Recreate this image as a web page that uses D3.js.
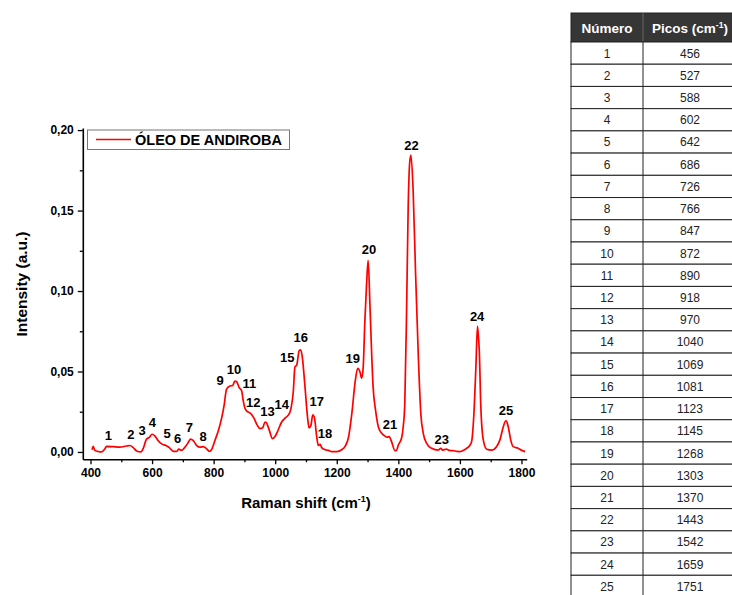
<!DOCTYPE html>
<html>
<head>
<meta charset="utf-8">
<script src="https://cdn.jsdelivr.net/npm/d3@7"></script>
<style>
  html, body { margin: 0; padding: 0; background: #fff; }
  svg { display: block; font-family: "Liberation Sans", Arial, sans-serif; }
</style>
</head>
<body>
<svg id="chart" width="732" height="595"></svg>
<script>
// Raman spectrum of andiroba oil (cm-1, a.u.)
const ramanShift = [
  405, 409, 414, 425, 436, 447, 452, 474, 495, 517, 528, 539, 550, 564, 571, 582, 591, 600, 609, 620,
  631, 645, 656, 669, 680, 687, 696, 707, 718, 725, 734, 745, 756, 766, 777, 786, 793, 804, 815, 826,
  834, 842, 853, 862, 869, 875, 883, 891, 896, 902, 910, 920, 931, 942, 951, 959, 967, 972, 981, 991,
  1000, 1010, 1021, 1032, 1043, 1050, 1059, 1064, 1070, 1078, 1083, 1088, 1097, 1105, 1110, 1116, 1122, 1127, 1135, 1140,
  1146, 1151, 1162, 1173, 1184, 1200, 1216, 1227, 1238, 1249, 1260, 1268, 1275, 1281, 1286, 1291, 1297, 1302, 1308, 1313,
  1318, 1326, 1335, 1346, 1356, 1363, 1370, 1378, 1389, 1394, 1400, 1411, 1416, 1421, 1427, 1432, 1437, 1441, 1448, 1456,
  1465, 1473, 1481, 1492, 1508, 1530, 1538, 1544, 1549, 1556, 1565, 1578, 1590, 1600, 1612, 1622, 1632, 1638, 1645, 1652,
  1657, 1660, 1663, 1668, 1676, 1687, 1703, 1719, 1730, 1741, 1749, 1752, 1757, 1765, 1773, 1789, 1800, 1812
];
const intensity = [
  0.0014, 0.0035, 0.0010, 0.0003, 0.0000, 0.0020, 0.0035, 0.0033, 0.0030, 0.0037, 0.0040, 0.0027, 0.0006, 0.0000, 0.0020, 0.0080, 0.0090, 0.0110, 0.0100, 0.0070,
  0.0050, 0.0040, 0.0027, 0.0004, 0.0004, 0.0017, 0.0010, 0.0030, 0.0060, 0.0080, 0.0070, 0.0040, 0.0030, 0.0033, 0.0020, 0.0004, 0.0014, 0.0070, 0.0130, 0.0210,
  0.0290, 0.0390, 0.0410, 0.0413, 0.0440, 0.0436, 0.0400, 0.0380, 0.0320, 0.0270, 0.0250, 0.0240, 0.0210, 0.0165, 0.0145, 0.0150, 0.0186, 0.0180, 0.0134, 0.0083,
  0.0097, 0.0138, 0.0186, 0.0210, 0.0230, 0.0260, 0.0380, 0.0527, 0.0540, 0.0630, 0.0635, 0.0590, 0.0400, 0.0217, 0.0150, 0.0165, 0.0230, 0.0217, 0.0093, 0.0040,
  0.0048, 0.0027, 0.0014, 0.0010, 0.0002, 0.0002, 0.0014, 0.0035, 0.0090, 0.0240, 0.0440, 0.0520, 0.0500, 0.0458, 0.0530, 0.0800, 0.1050, 0.1190, 0.0900, 0.0630,
  0.0406, 0.0260, 0.0157, 0.0116, 0.0100, 0.0092, 0.0095, 0.0064, 0.0008, 0.0010, 0.0043, 0.0090, 0.0160, 0.0300, 0.0900, 0.1520, 0.1800, 0.1845, 0.1630, 0.1110,
  0.0590, 0.0240, 0.0116, 0.0054, 0.0023, 0.0012, 0.0023, 0.0012, 0.0014, 0.0017, 0.0010, 0.0008, 0.0004, 0.0002, 0.0010, 0.0023, 0.0040, 0.0064, 0.0220, 0.0530,
  0.0780, 0.0720, 0.0630, 0.0280, 0.0075, 0.0017, 0.0012, 0.0033, 0.0075, 0.0157, 0.0194, 0.0190, 0.0157, 0.0075, 0.0033, 0.0023, 0.0010, 0.0002
];

// Assigned peaks (table) and where each number is written on the plot (cm-1, a.u.)
const peakNumbers = [1, 2, 3, 4, 5, 6, 7, 8, 9, 10, 11, 12, 13, 14, 15, 16, 17, 18, 19, 20, 21, 22, 23, 24, 25];
const peakPositions = [456, 527, 588, 602, 642, 686, 726, 766, 847, 872, 890, 918, 970, 1040, 1069, 1081, 1123, 1145, 1268, 1303, 1370, 1443, 1542, 1659, 1751];
const labelShift = [458, 531, 568, 601, 649, 683, 721, 766, 821, 866, 916, 929, 975, 1021, 1039, 1083, 1135, 1162, 1252, 1305, 1373, 1443, 1541, 1656, 1750];
const labelIntensity = [0.0106, 0.0110, 0.0137, 0.0182, 0.0116, 0.0085, 0.0151, 0.0095, 0.0443, 0.0514, 0.0427, 0.0306, 0.0250, 0.0298, 0.0588, 0.0712, 0.0312, 0.0116, 0.0582, 0.1259, 0.0174, 0.1907, 0.0081, 0.0845, 0.0257];

// Axis ticks
const xTicks = [400, 600, 800, 1000, 1200, 1400, 1600, 1800];
const xMinorTicks = [500, 700, 900, 1100, 1300, 1500, 1700];
const yTicks = [0, 0.05, 0.10, 0.15, 0.20];
const yMinorTicks = [0.025, 0.075, 0.125, 0.175];

const seriesName = "ÓLEO DE ANDIROBA";

const svg = d3.select("#chart");

const x = d3.scaleLinear().domain([375, 1817]).range([82.8, 526.7]);
const y = d3.scaleLinear().domain([-0.0045, 0.2013]).range([459.2, 128]);

const fmtY = d => d.toFixed(2).replace(".", ",");
const fmtX = d3.format("d");

// Axes
svg.append("g").attr("transform", `translate(0,${y.range()[0]})`)
  .call(d3.axisBottom(x).tickValues(xTicks).tickFormat(fmtX).tickSize(5).tickSizeOuter(0).tickPadding(4));
svg.append("g").attr("transform", `translate(0,${y.range()[0]})`)
  .call(d3.axisBottom(x).tickValues(xMinorTicks).tickSize(3).tickSizeOuter(0).tickFormat(""))
  .call(g => g.select(".domain").remove());

svg.append("g").attr("transform", `translate(${x.range()[0]},0)`)
  .call(d3.axisLeft(y).tickValues(yTicks).tickFormat(fmtY).tickSize(5).tickSizeOuter(0).tickPadding(4));
svg.append("g").attr("transform", `translate(${x.range()[0]},0)`)
  .call(d3.axisLeft(y).tickValues(yMinorTicks).tickSize(3).tickSizeOuter(0).tickFormat(""))
  .call(g => g.select(".domain").remove());

svg.selectAll(".domain").attr("stroke", "#000").attr("stroke-width", 1.6);
svg.selectAll(".tick line").attr("stroke", "#000").attr("stroke-width", 1.3);
svg.selectAll(".tick text")
  .attr("fill", "#000")
  .style("font-family", "'Liberation Sans', Arial, sans-serif")
  .style("font-size", "12px")
  .style("font-weight", "bold");

// Axis titles
svg.append("text")
  .attr("transform", "translate(27,284) rotate(-90)")
  .attr("text-anchor", "middle")
  .style("font-size", "15.5px").style("font-weight", "bold")
  .text("Intensity (a.u.)");

const xt = svg.append("text")
  .attr("x", 306).attr("y", 508)
  .attr("text-anchor", "middle")
  .style("font-size", "15px").style("font-weight", "bold");
xt.append("tspan").text("Raman shift (cm");
xt.append("tspan").attr("dy", -6).style("font-size", "9px").text("-1");
xt.append("tspan").attr("dy", 6).text(")");

// Spectrum
const pts = ramanShift.map((v, i) => [v, intensity[i]]);
const line = d3.line().x(d => x(d[0])).y(d => y(d[1])).curve(d3.curveMonotoneX);
svg.append("path")
  .datum(pts)
  .attr("d", line)
  .attr("fill", "none")
  .attr("stroke", "#ff0000")
  .attr("stroke-width", 1.7)
  .attr("stroke-linejoin", "round");

// Peak numbers
svg.append("g").selectAll("text")
  .data(peakNumbers)
  .join("text")
  .attr("x", (d, i) => x(labelShift[i]))
  .attr("y", (d, i) => y(labelIntensity[i]))
  .attr("dy", "0.36em")
  .attr("text-anchor", "middle")
  .style("font-size", "13px").style("font-weight", "bold")
  .text(d => d);

// Legend
const lg = svg.append("g");
lg.append("rect")
  .attr("x", 87.5).attr("y", 130).attr("width", 202).attr("height", 19.5)
  .attr("fill", "#fff").attr("stroke", "#777").attr("stroke-width", 1);
lg.append("line")
  .attr("x1", 96).attr("x2", 131).attr("y1", 139.5).attr("y2", 139.5)
  .attr("stroke", "#ff0000").attr("stroke-width", 1.7);
lg.append("text")
  .attr("x", 135).attr("y", 145)
  .style("font-size", "14.5px").style("font-weight", "bold")
  .text(seriesName);

// Peak table
const tLeft = 571, tDiv = 643, tRight = 737, tTop = 13, headH = 29, rowH = 22.22;
const tbl = svg.append("g");
tbl.append("rect")
  .attr("x", tLeft).attr("y", tTop).attr("width", tRight - tLeft).attr("height", headH)
  .attr("fill", "#363636").attr("stroke", "#222");
tbl.append("text")
  .attr("x", (tLeft + tDiv) / 2).attr("y", tTop + headH / 2 + 5)
  .attr("text-anchor", "middle").attr("fill", "#fff")
  .style("font-size", "13.5px").style("font-weight", "bold")
  .text("Número");
const h2 = tbl.append("text")
  .attr("x", (tDiv + tRight) / 2).attr("y", tTop + headH / 2 + 5)
  .attr("text-anchor", "middle").attr("fill", "#fff")
  .style("font-size", "13.5px").style("font-weight", "bold");
h2.append("tspan").text("Picos (cm");
h2.append("tspan").attr("dy", -5).style("font-size", "8.5px").text("-1");
h2.append("tspan").attr("dy", 5).text(")");
tbl.append("line")
  .attr("x1", tDiv).attr("x2", tDiv).attr("y1", tTop).attr("y2", tTop + headH)
  .attr("stroke", "#666").attr("stroke-width", 1);

const rows = tbl.append("g").selectAll("g")
  .data(peakNumbers)
  .join("g")
  .attr("transform", (d, i) => `translate(0,${tTop + headH + i * rowH})`);
rows.append("rect")
  .attr("x", tLeft).attr("y", 0).attr("width", tRight - tLeft).attr("height", rowH)
  .attr("fill", "#fff").attr("stroke", "#222").attr("stroke-width", 1);
rows.append("line")
  .attr("x1", tDiv).attr("x2", tDiv).attr("y1", 0).attr("y2", rowH)
  .attr("stroke", "#222").attr("stroke-width", 1);
rows.append("text")
  .attr("x", (tLeft + tDiv) / 2).attr("y", rowH / 2 + 4.5)
  .attr("text-anchor", "middle").attr("fill", "#222")
  .style("font-size", "12px")
  .text(d => d);
rows.append("text")
  .attr("x", (tDiv + tRight) / 2).attr("y", rowH / 2 + 4.5)
  .attr("text-anchor", "middle").attr("fill", "#222")
  .style("font-size", "12px")
  .text((d, i) => peakPositions[i]);
</script>
</body>
</html>
